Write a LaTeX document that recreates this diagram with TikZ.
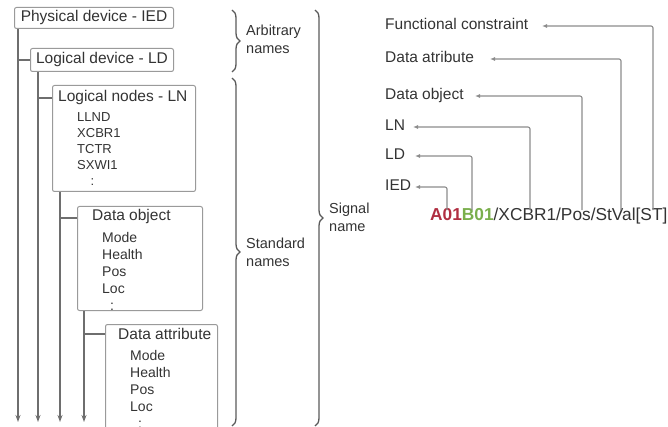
\documentclass[tikz,border=0pt]{standalone}
\usepackage{fontspec}
\setmainfont{Liberation Sans}
\usetikzlibrary{decorations.pathreplacing,arrows.meta,calc}
\definecolor{txt}{HTML}{333333}
\definecolor{boxc}{HTML}{9A9A9A}
\definecolor{linec}{HTML}{6E6E6E}
\definecolor{arrc}{HTML}{8C8C8C}
\definecolor{bracec}{HTML}{5A5A5A}
\definecolor{redA}{HTML}{B02E41}
\definecolor{greenB}{HTML}{7AAF4C}
\begin{document}
\begin{tikzpicture}[x=1pt,y=-1pt,
  box/.style={draw=boxc, line width=1pt, rounded corners=2pt, inner sep=0pt, anchor=north west, text=txt,
    font=\fontsize{15.5}{18}\selectfont, text height=0.716em, text depth=0pt},
  ttl/.style={inner sep=0pt, anchor=west, text height=0.716em, text depth=0pt, text=txt,
    font=\fontsize{15.5}{18}\selectfont},
  lbl/.style={inner sep=0pt, anchor=west, text height=0.716em, text depth=0pt, text=txt,
    font=\fontsize{15.5}{18}\selectfont},
  itemsS/.style={inner sep=0pt, anchor=north west, align=left, text=txt, font=\fontsize{13}{16}\selectfont},
  itemsL/.style={inner sep=0pt, anchor=north west, align=left, text=txt, font=\fontsize{14}{17}\selectfont},
  blbl/.style={inner sep=0pt, anchor=north west, align=left, text=txt, font=\fontsize{14.5}{17.5}\selectfont},
  con/.style={draw=linec, line width=1.4pt},
  varr/.style={con, -{Stealth[length=7pt,width=5pt]}},
  rarr/.style={draw=arrc, line width=1.1pt, rounded corners=2pt, -{Latex[length=5pt,width=4pt]}},
  brc/.style={draw=bracec, line width=1.3pt, decorate, decoration={brace, amplitude=8pt}}
]
\path[use as bounding box, clip] (0,0) rectangle (668,427);

% boxes
\node[box, minimum width=159pt, minimum height=21pt] (ied) at (14,7) {Physical device - IED};
\node[box, minimum width=143pt, minimum height=23pt] (ld) at (30,48) {Logical device - LD};
\node[box, minimum width=143pt, minimum height=106pt] (lnb) at (52,85) {};
\node[box, minimum width=125pt, minimum height=104pt] (dob) at (77,206) {};
\node[box, minimum width=112pt, minimum height=125pt] (dab) at (105,324) {};

% box contents
\node[ttl] (lnt) at (58,98) {Logical nodes - LN};
\node[itemsS] (lni) at (77,112.3) {LLND\\XCBR1\\TCTR\\SXWI1\\\hspace*{13.5pt}:};
\node[ttl] (dot) at (92,217) {Data object};
\node[itemsL] (doi) at (102,232) {Mode\\Health\\Pos\\Loc\\\hspace*{8pt}:};
\node[ttl] (dat) at (118,336) {Data attribute};
\node[itemsL] (dai) at (130,350) {Mode\\Health\\Pos\\Loc\\\hspace*{8pt}:};

% tree lines
\coordinate (bot) at (0,422);
\coordinate (l1) at ([xshift=4pt]ied.south west);
\coordinate (l2) at ([xshift=8pt]ld.south west);
\coordinate (l3) at ([xshift=8pt]lnb.south west);
\coordinate (l4) at ([xshift=7pt]dob.south west);
\draw[varr] (l1) -- (l1 |- bot);
\draw[varr] (l2) -- (l2 |- bot);
\draw[varr] (l3) -- (l3 |- bot);
\draw[varr] (l4) -- (l4 |- bot);
\coordinate (inLN) at ([yshift=-13pt]lnb.north west);
\coordinate (inDO) at ([yshift=-12pt]dob.north west);
\coordinate (inDA) at ([yshift=-10pt]dab.north west);
\draw[con] (ld.west -| l1) -- (ld.west);
\draw[con] (inLN -| l2) -- (inLN);
\draw[con] (inDO -| l3) -- (inDO);
\draw[con] (inDA -| l4) -- (inDA);

% braces
\draw[brc] (232,10) -- (232,72);
\draw[brc] (232,78) -- (232,426);
\draw[brc] (315,10) -- (315,426);
\node[blbl] (arb) at (246,24.8) {Arbitrary\\names};
\node[blbl] (std) at (246,237.8) {Standard\\names};
\node[blbl] (sgn) at (329,202.8) {Signal\\name};

% right side labels
\node[lbl] (fc) at (385,26) {Functional constraint};
\node[lbl] (da) at (385,59) {Data atribute};
\node[lbl] (do) at (385,96) {Data object};
\node[lbl] (lnl) at (385,127) {LN};
\node[lbl] (ldl) at (385,156) {LD};
\node[lbl] (iedl) at (385,187) {IED};

\node[inner sep=0pt, anchor=west, text height=0.716em, text depth=0pt, text=txt,
  font=\fontsize{17.3}{20}\selectfont] (sig) at (430,217)
  {\textcolor{redA}{\bfseries A01}\textcolor{greenB}{\bfseries B01}/XCBR1/Pos/StVal[ST]};
\coordinate (stop) at ([yshift=3pt]sig.north);

\draw[rarr] (447,0 |- stop) |- (415,0 |- iedl.east);
\draw[rarr] (472,0 |- stop) |- (415,0 |- ldl.east);
\draw[rarr] (530,0 |- stop) |- (413,0 |- lnl.east);
\draw[rarr] (582,0 |- stop) |- (475,0 |- do.east);
\draw[rarr] (621,0 |- stop) |- (490,0 |- da.east);
\draw[rarr] (653,0 |- stop) |- (542,0 |- fc.east);
\end{tikzpicture}
\end{document}
